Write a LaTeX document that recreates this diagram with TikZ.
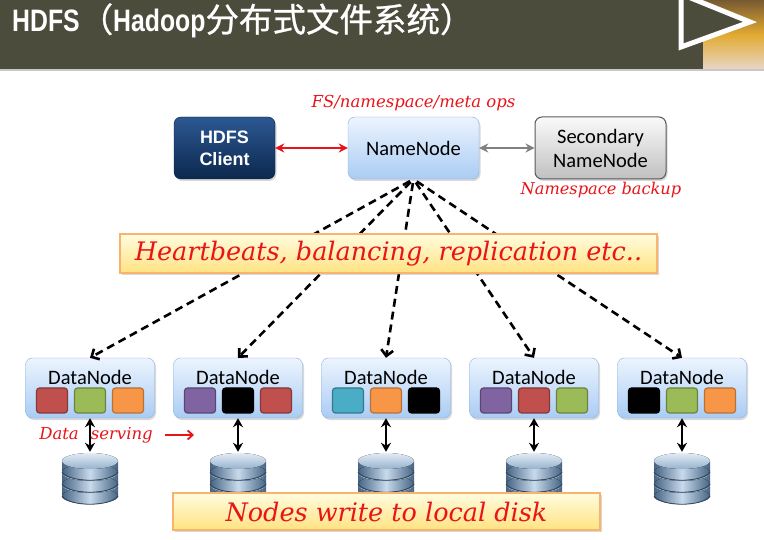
\documentclass[tikz,border=0pt]{standalone}
\usepackage{graphicx}
\usepackage{fontspec}
\setmainfont{Carlito}
\newfontfamily\cjkfont{Noto Sans CJK SC}[FakeBold=0.8]
\newfontfamily\arialfont{Liberation Sans}
\newfontfamily\handfont{DejaVu Serif}
\usetikzlibrary{arrows.meta,shadows,positioning}

\definecolor{barcol}{RGB}{75,76,60}
\definecolor{rulegrey}{RGB}{200,200,200}
\definecolor{photobrown}{RGB}{120,90,50}
\definecolor{photogold}{RGB}{226,170,50}
\definecolor{photobeige}{RGB}{232,214,196}
\definecolor{hred}{RGB}{232,20,25}
\definecolor{clienttop}{RGB}{44,88,146}
\definecolor{clientbot}{RGB}{12,40,78}
\definecolor{clientedge}{RGB}{10,30,60}
\definecolor{nntop}{RGB}{236,244,254}
\definecolor{nnbot}{RGB}{170,204,244}
\definecolor{nnedge}{RGB}{140,176,222}
\definecolor{sectop}{RGB}{250,250,250}
\definecolor{secbot}{RGB}{192,192,192}
\definecolor{secedge}{RGB}{90,90,90}
\definecolor{hbtop}{RGB}{255,252,222}
\definecolor{hbbot}{RGB}{255,226,130}
\definecolor{hbedge}{RGB}{248,180,108}
\definecolor{disktop}{RGB}{226,236,246}
\definecolor{disktopdark}{RGB}{150,178,204}
\definecolor{disklight}{RGB}{200,218,236}
\definecolor{diskdark}{RGB}{70,100,132}
\definecolor{sqred}{RGB}{192,80,77}
\definecolor{sqgreen}{RGB}{155,187,89}
\definecolor{sqorange}{RGB}{247,150,70}
\definecolor{sqpurple}{RGB}{128,100,162}
\definecolor{sqblue}{RGB}{75,172,198}

\tikzset{
  every node/.style={inner sep=0pt},
  shade/.style={drop shadow={opacity=0.3, shadow xshift=1.5pt, shadow yshift=-2pt}},
  box/.style={draw, shade, rounded corners=7pt, minimum width=131pt, minimum height=62pt,
    align=center, font=\fontsize{20.5}{24}\selectfont},
  clientbox/.style={box, minimum width=101pt, draw=clientedge, top color=clienttop, bottom color=clientbot,
    text=white, font=\arialfont\bfseries\fontsize{18}{22}\selectfont},
  namebox/.style={box, draw=nnedge, top color=nntop, bottom color=nnbot},
  secbox/.style={box, draw=secedge, line width=1pt, top color=sectop, bottom color=secbot},
  dnbox/.style={box, minimum width=129pt, minimum height=60pt},
  datanode/.style={dnbox, draw=nnedge, top color=nntop, bottom color=nnbot},
  dnlabel/.style={font=\fontsize{20.5}{24}\selectfont},
  sq/.style={draw, line width=1.2pt, rounded corners=3pt, minimum width=31pt, minimum height=25pt},
  sqr/.style={sq, fill=sqred, draw=sqred!70!black},
  sqg/.style={sq, fill=sqgreen, draw=sqgreen!70!black},
  sqo/.style={sq, fill=sqorange, draw=sqorange!75!black},
  sqp/.style={sq, fill=sqpurple, draw=sqpurple!70!black},
  sqk/.style={sq, fill=black, draw=black},
  sqb/.style={sq, fill=sqblue, draw=sqblue!70!black},
  notebox/.style={draw=hbedge, line width=1.2pt, top color=hbtop, bottom color=hbbot, shade,
    text=hred, font=\handfont\itshape\fontsize{25.5}{30}\selectfont},
  note/.style={text=hred, font=\handfont\itshape\fontsize{16.5}{20}\selectfont},
  disk/.style={minimum width=60pt, minimum height=56pt, path picture={
    \begin{scope}[shift={(path picture bounding box.center)}]
      \foreach \t in {5,-7,-19} {
        \fill[left color=diskdark, right color=diskdark, middle color=disklight] (-28,\t) rectangle (28,\t+11);
        \fill[left color=diskdark, right color=diskdark, middle color=disklight] (0,\t+11) ellipse (28pt and 8pt);
        \draw[diskdark!70!black, line width=0.8pt] (-28,\t+11) .. controls (-20,\t+22) and (20,\t+22) .. (28,\t+11);
        \fill[top color=disktop, bottom color=disktopdark] (0,\t) ellipse (28pt and 8pt);
      }
    \end{scope}}},
  redline/.style={draw=hred, line width=2.4pt, {Stealth[length=9pt,width=9pt]}-{Stealth[length=9pt,width=9pt]}},
  greyline/.style={draw=gray, line width=2.2pt, {Stealth[length=9pt,width=9pt]}-{Stealth[length=9pt,width=9pt]}},
  hbline/.style={draw, dash pattern=on 8pt off 5pt, line width=2.6pt, shorten <=4pt,
    -{Straight Barb[length=6pt,width=12pt]}},
  diskline/.style={draw, line width=2.8pt, {Stealth[length=9pt,width=10pt]}-{Stealth[length=9pt,width=10pt]}},
  servline/.style={draw=hred, line width=1.8pt, -{Straight Barb[length=5pt,width=9pt]}}
}

\begin{document}
\begin{tikzpicture}[x=1pt, y=-1pt]
  \useasboundingbox (0,0) rectangle (764,540);
  \fill[white] (0,0) rectangle (764,540);
  \fill[barcol] (0,0) rectangle (764,69);
  \fill[rulegrey] (0,69) rectangle (764,71.5);
  \fill[top color=photobrown, bottom color=photobeige, middle color=photogold] (703,0) rectangle (764,69);
  \draw[white, line width=5pt, fill=barcol] (681,-6) -- (750,22) -- (681,47) -- cycle;
  \node[anchor=base west, text=white] (title) at (12,32)
    {\arialfont\bfseries\fontsize{31}{36}\selectfont\scalebox{0.8}[1]{HDFS}%
     {\cjkfont\mdseries\fontsize{33.5}{36}\selectfont （}\scalebox{0.8}[1]{Hadoop}%
     {\cjkfont\mdseries\fontsize{33.5}{36}\selectfont 分布式文件系统）}};

  \node[clientbox] (client) at (224.5,148) {HDFS\\Client};
  \node[namebox] (nn) at (413.5,148) {NameNode};
  \node[secbox] (snn) at (600.5,148) {Secondary\\NameNode};
  \node[note] (fs) at (413.5,103) {FS/namespace/meta ops};
  \node[note, font=\handfont\itshape\fontsize{16.2}{20}\selectfont] (nb) at (601,190) {Namespace backup};
  \draw[redline] (client) -- (nn);
  \draw[greyline] (nn) -- (snn);

  \node[datanode] (d1) at (90,388) {};
  \node[datanode] (d2) at (238,388) {};
  \node[datanode] (d3) at (386,388) {};
  \node[datanode] (d4) at (534,388) {};
  \node[datanode] (d5) at (682,388) {};
  \node[dnlabel] (d1l) at (90,377) {DataNode};
  \node[dnlabel] (d2l) at (238,377) {DataNode};
  \node[dnlabel] (d3l) at (386,377) {DataNode};
  \node[dnlabel] (d4l) at (534,377) {DataNode};
  \node[dnlabel] (d5l) at (682,377) {DataNode};

  \node[sqr] (d1a) at (52,400.5) {};
  \node[sqg] (d1b) at (90,400.5) {};
  \node[sqo] (d1c) at (128,400.5) {};
  \node[sqp] (d2a) at (200,400.5) {};
  \node[sqk] (d2b) at (238,400.5) {};
  \node[sqr] (d2c) at (276,400.5) {};
  \node[sqb] (d3a) at (348,400.5) {};
  \node[sqo] (d3b) at (386,400.5) {};
  \node[sqk] (d3c) at (424,400.5) {};
  \node[sqp] (d4a) at (496,400.5) {};
  \node[sqr] (d4b) at (534,400.5) {};
  \node[sqg] (d4c) at (572,400.5) {};
  \node[sqk] (d5a) at (644,400.5) {};
  \node[sqg] (d5b) at (682,400.5) {};
  \node[sqo] (d5c) at (720,400.5) {};

  \begin{scope}[hbline]
    \draw (nn.south) to (d1.north);
    \draw (nn.south) to (d2.north);
    \draw (nn.south) to (d3.north);
    \draw (nn.south) to (d4.north);
    \draw (nn.south) to (d5.north);
  \end{scope}
  \node[notebox, minimum width=537pt, minimum height=39pt] (hb) at (388.5,253.5)
    {Heartbeats, balancing, replication etc..};

  \node[disk] (s1) at (90,480) {};
  \node[disk] (s2) at (238,480) {};
  \node[disk] (s3) at (386,480) {};
  \node[disk] (s4) at (534,480) {};
  \node[disk] (s5) at (682,480) {};
  \begin{scope}[diskline]
    \draw (d1) to (s1);
    \draw (d2) to (s2);
    \draw (d3) to (s3);
    \draw (d4) to (s4);
    \draw (d5) to (s5);
  \end{scope}

  \node[note] (ds) at (96,435) {Data\hspace{12pt}serving};
  \coordinate (dsa) at (165,435);
  \coordinate (dsb) at (194,435);
  \draw[servline] (dsa) -- (dsb);

  \node[notebox, minimum width=427pt, minimum height=37pt] (nw) at (386.5,511.5)
    {Nodes write to local disk};
\end{tikzpicture}
\end{document}
